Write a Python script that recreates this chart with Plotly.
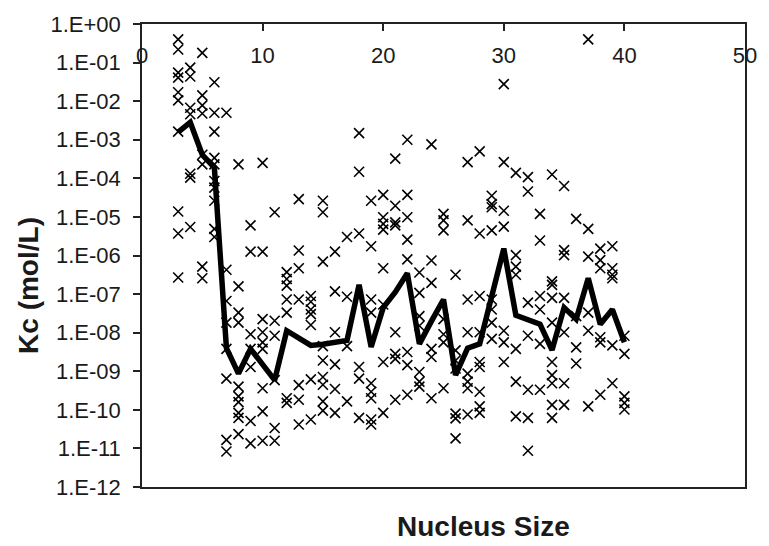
import plotly.graph_objects as go

# ---- data (log10 of Kc, mol/L) ----
points_by_size = {
    3: [-0.40, -0.66, -1.26, -1.39, -1.77, -1.98, -2.79, -4.86, -5.43, -6.57],
    4: [-1.13, -1.36, -2.17, -2.34, -3.88, -3.98, -5.26],
    5: [-0.75, -1.85, -2.11, -2.32, -3.39, -3.64, -6.29, -6.59],
    6: [-1.51, -2.30, -2.79, -3.47, -3.64, -4.07, -4.24, -4.58, -5.31, -5.52],
    7: [-2.30, -6.37, -7.18, -7.74, -8.42, -9.19, -10.78, -11.08],
    8: [-3.64, -6.80, -7.48, -7.74, -9.40, -9.65, -9.80, -10.08, -10.21, -10.63],
    9: [-5.22, -5.90, -8.04, -8.42, -8.89, -10.29, -10.87],
    10: [-3.60, -5.90, -7.65, -7.99, -8.25, -8.42, -9.44, -10.04, -10.80],
    11: [-4.88, -7.69, -8.08, -9.23, -10.47, -10.80],
    12: [-6.43, -6.61, -6.78, -7.14, -7.48, -9.70, -9.82],
    13: [-4.54, -5.87, -6.33, -7.14, -9.36, -9.74, -10.38],
    14: [-7.05, -7.20, -7.40, -7.52, -7.80, -9.21, -10.25],
    15: [-4.58, -4.88, -6.16, -8.35, -8.72, -9.15, -9.35, -9.78, -10.02],
    16: [-5.90, -6.93, -7.99, -8.82, -9.46, -10.08],
    17: [-5.52, -7.07, -8.35, -9.78],
    18: [-2.83, -3.83, -5.43, -8.89, -9.19, -10.21],
    19: [-4.58, -5.76, -7.14, -7.48, -9.31, -9.53, -9.70, -10.25, -10.38],
    20: [-4.43, -5.01, -5.18, -5.33, -6.33, -7.27, -8.76, -10.08],
    21: [-3.49, -4.71, -5.14, -5.22, -7.99, -8.55, -8.68, -9.74],
    22: [-3.00, -4.43, -5.01, -5.59, -6.10, -8.50, -8.84, -9.61],
    23: [-6.44, -6.97, -7.57, -7.82, -9.02, -9.27, -9.40],
    24: [-3.12, -6.13, -6.71, -8.42, -8.63, -9.70],
    25: [-4.92, -5.09, -5.35, -7.65, -8.04, -8.25, -9.44],
    26: [-6.50, -8.46, -8.72, -8.93, -10.10, -10.22, -10.74],
    27: [-3.58, -5.09, -7.14, -7.99, -9.06, -9.27, -9.44, -10.12],
    28: [-3.30, -5.43, -7.05, -7.99, -8.76, -8.89, -9.53, -9.91, -10.08],
    29: [-4.45, -4.67, -4.75, -5.35, -7.14, -7.40, -7.74, -8.16],
    30: [-1.56, -3.58, -4.84, -5.25, -7.95, -8.25, -8.76],
    31: [-3.86, -5.99, -6.29, -6.50, -8.42, -9.27, -10.17],
    32: [-3.97, -4.34, -7.22, -8.08, -9.48, -10.21, -11.06],
    33: [-4.92, -5.61, -7.05, -7.40, -8.29, -9.48],
    34: [-3.90, -6.67, -6.76, -7.10, -7.74, -8.76, -9.10, -9.31, -9.87, -10.21],
    35: [-4.20, -5.86, -5.99, -7.10, -7.99, -9.31, -9.87],
    36: [-5.05, -7.57, -8.38, -8.80],
    37: [-0.40, -5.31, -6.03, -7.48, -7.95, -9.91],
    38: [-5.82, -6.12, -6.33, -8.12, -8.25, -9.61],
    39: [-5.76, -6.33, -6.50, -6.59, -8.33, -9.31],
    40: [-8.08, -8.55, -9.65, -9.82, -9.99],
}
scatter_size = []
scatter_log10_kc = []
for s, vals in points_by_size.items():
    for v in vals:
        scatter_size.append(s)
        scatter_log10_kc.append(v)

mean_size = list(range(3, 41))
mean_log10_kc = [-2.80, -2.55, -3.39, -3.72, -8.40, -9.06, -8.42, -8.80, -9.23, -7.95,
                 -8.16, -8.33, -8.30, -8.25, -8.20, -6.76, -8.37, -7.35, -6.95, -6.46,
                 -8.29, -7.70, -7.14, -9.10, -8.40, -8.29, -7.10, -5.82, -7.55, -7.65,
                 -7.78, -8.45, -7.35, -7.65, -6.59, -7.78, -7.40, -8.25]

y_exponents = list(range(0, -13, -1))
y_tick_text = ["1.E+00" if e == 0 else "1.E-%02d" % (-e) for e in y_exponents]
x_tick_vals = [0, 10, 20, 30, 40, 50]

scatter_kc = [10 ** v for v in scatter_log10_kc]
mean_kc = [10 ** v for v in mean_log10_kc]

fig = go.Figure()
fig.add_trace(go.Scatter(
    x=scatter_size, y=scatter_kc, mode="markers",
    marker=dict(symbol="x-thin", size=10, color="black",
                line=dict(width=1.6, color="black")),
    showlegend=False, cliponaxis=False))
fig.add_trace(go.Scatter(
    x=mean_size, y=mean_kc, mode="lines",
    line=dict(color="black", width=5.5),
    showlegend=False))
# carrier for the label axis (draws nothing)
fig.add_trace(go.Scatter(x=x_tick_vals, y=[1e-6] * len(x_tick_vals), xaxis="x2",
                         mode="none", showlegend=False, hoverinfo="skip"))

font_family = "Liberation Sans, Arial, sans-serif"
fig.update_layout(
    width=769, height=546,
    margin=dict(l=142, r=17, t=18, b=59),
    paper_bgcolor="white", plot_bgcolor="white",
    font=dict(family=font_family, size=21, color="#1a1a1a"),
    xaxis=dict(range=[0, 50], tickvals=x_tick_vals, side="top",
               ticks="inside", ticklen=7, tickwidth=1.5, tickcolor="#222",
               showticklabels=False,
               showline=True, linecolor="#222", linewidth=1.5, mirror=True,
               showgrid=False, zeroline=False),
    xaxis2=dict(range=[0, 50], tickvals=x_tick_vals, overlaying="x",
                anchor="free", position=0.965, side="bottom",
                ticks="", showline=False, showgrid=False, zeroline=False,
                tickfont=dict(size=22)),
    yaxis=dict(type="log", range=[-12, 0],
               tickvals=[10 ** e for e in y_exponents], ticktext=y_tick_text,
               ticks="outside", ticklen=7, tickwidth=1.5, tickcolor="#222",
               ticklabelstandoff=8, tickfont=dict(size=22),
               showline=True, linecolor="#222", linewidth=1.5, mirror=True,
               showgrid=False, zeroline=False),
    annotations=[
        dict(text="<b>Kc (mol/L)</b>", textangle=-90, xref="paper", yref="paper",
             x=-0.1885, y=0.435, showarrow=False, font=dict(size=28, color="#1a1a1a"),
             xanchor="center", yanchor="middle"),
        dict(text="<b>Nucleus Size</b>", xref="paper", yref="paper",
             x=0.5656, y=-0.0853, showarrow=False, font=dict(size=28, color="#1a1a1a"),
             xanchor="center", yanchor="middle"),
    ],
)

fig.write_html("out.html")
